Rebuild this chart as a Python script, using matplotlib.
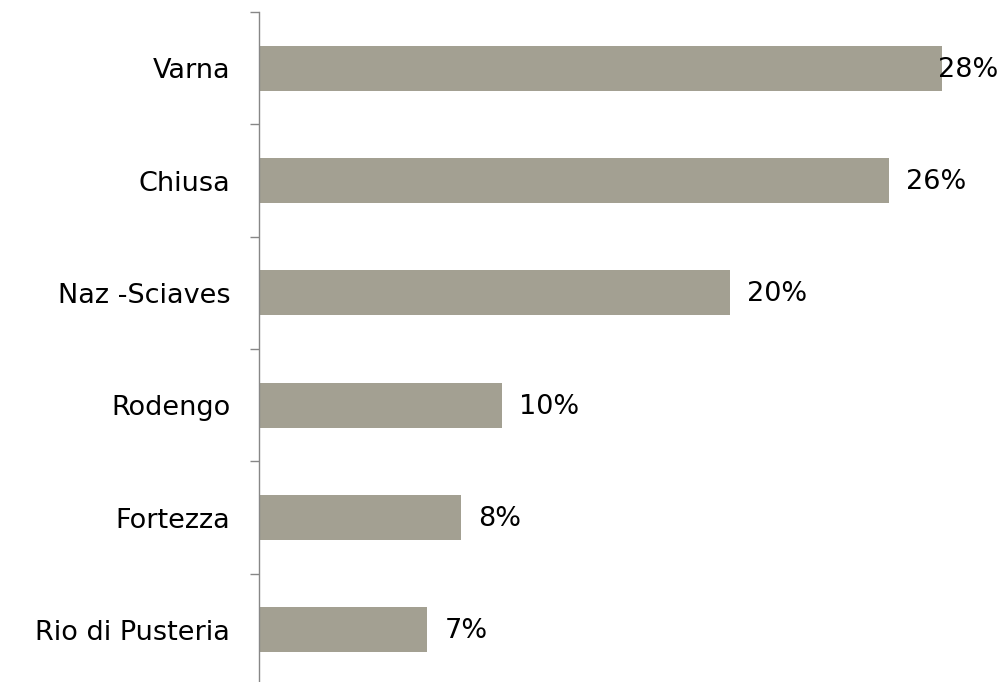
import matplotlib.pyplot as plt
import numpy as np

# share by municipality
towns = ['Varna', 'Chiusa', 'Naz -Sciaves', 'Rodengo', 'Fortezza', 'Rio di Pusteria']
shares = [28.4, 26.2, 19.6, 10.1, 8.4, 7.0]

bar_color = '#A3A092'
axis_color = '#878787'

plt.rcParams['font.family'] = ['DejaVu Sans']

fig = plt.figure(figsize=(10.08, 6.82), dpi=100)
ax = fig.add_axes([258.7 / 1008, 1 - 686 / 682, 721.5 / 1008, 674 / 682])

y = np.arange(len(towns))
ax.barh(y, shares, height=0.40, color=bar_color)

ax.set_xlim(0, 30)
ax.set_ylim(len(towns) - 0.5, -0.5)

for s in ['top', 'right', 'bottom']:
    ax.spines[s].set_visible(False)
ax.spines['left'].set_color(axis_color)
ax.spines['left'].set_linewidth(1.0)
ax.set_xticks([])

# boundary tick marks, category labels in between
ax.set_yticks(np.arange(-0.5, len(towns), 1.0))
ax.set_yticklabels([])
ax.tick_params(axis='y', which='major', length=6.5, width=1.0, color=axis_color, direction='out')
ax.set_yticks(y, minor=True)
ax.set_yticklabels(towns, minor=True, fontsize=19.5)
ax.tick_params(axis='y', which='minor', length=0, pad=20.5)

# value labels, pushed back inside the figure if they run off the edge
texts = []
for yi, v in zip(y, shares):
    t = ax.annotate('{:.0f}%'.format(v), xy=(v, yi), xytext=(12.5, -1), textcoords='offset points',
                    va='center', ha='left', fontsize=19.5, color='black')
    texts.append(t)

fig.canvas.draw()
r = fig.canvas.get_renderer()
for t in texts:
    bb = t.get_window_extent(r)
    over = bb.x1 - (fig.bbox.width - 10)
    if over > 0:
        ox, oy = t.xyann
        t.xyann = (ox - over * 72 / fig.dpi, oy)

plt.savefig('out.png', dpi=100)
